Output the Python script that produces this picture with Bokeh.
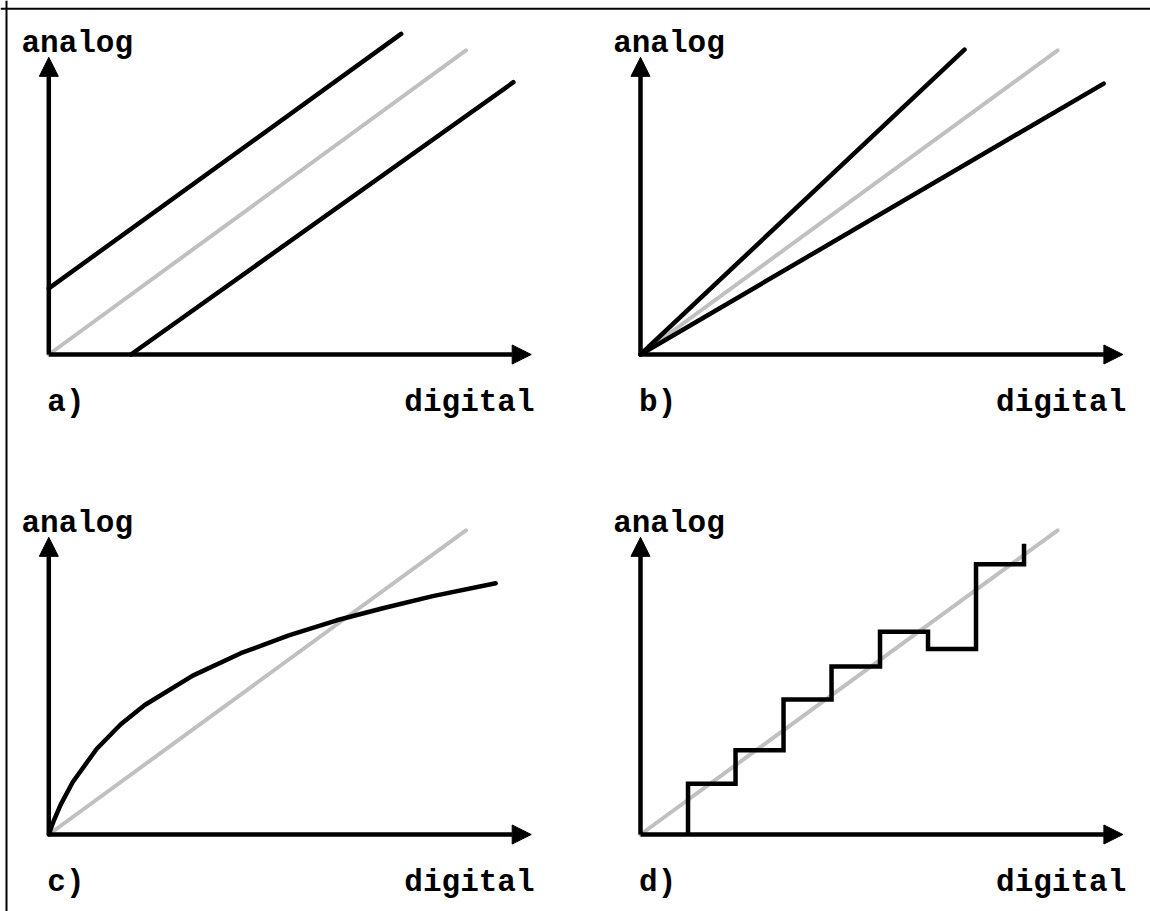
from bokeh.plotting import figure
from bokeh.models import Range1d, Arrow, NormalHead
from bokeh.embed import file_html
from bokeh.resources import INLINE
from bokeh.core.properties import value

# ---- data (x: digital codes, y: analog LSB) ----
ideal_x = [0, 8.69]
ideal_y = [0, 8.69]

# a) offset error
offset_pos_x = [0, 7.34]
offset_pos_y = [1.89, 9.16]
offset_neg_x = [1.71, 9.68]
offset_neg_y = [0, 7.78]

# b) gain error
gain_hi_x = [0, 6.75]
gain_hi_y = [0, 8.71]
gain_lo_x = [0, 9.65]
gain_lo_y = [0, 7.74]

# c) nonlinearity
curve_x = [0, 0.03, 0.1, 0.25, 0.5, 1, 1.5, 2, 3, 4, 5, 6, 7, 8, 9.31]
curve_y = [0, 0.12, 0.38, 0.86, 1.50, 2.45, 3.15, 3.70, 4.54, 5.18, 5.69,
           6.12, 6.48, 6.81, 7.18]

# d) staircase
step_x = [0.99, 1.98, 2.98, 3.98, 4.99, 5.99, 6.99, 7.99]
step_y = [1.45, 2.41, 3.86, 4.80, 5.79, 5.30, 7.72, 8.31]

panel_labels = ["a)", "b)", "c)", "d)"]
x_label = "digital"
y_label = "analog"

X_AXIS_END = 10.05
Y_AXIS_END = 8.49

W, H = 1150, 911
PX_X = 48.0   # pixels per digital unit
PX_Y = 35.0   # pixels per analog unit
# panel origins on the page (pixels from left / top)
ORIGINS = {"a": (48.3, 354), "b": (640.0, 354), "c": (48.3, 834), "d": (640.0, 834)}

FONT = value("Liberation Mono")
FS = "31px"
GRAY = "#c0c0c0"
LW = 4.5

p = figure(width=W, height=H, output_backend="svg", toolbar_location=None,
           x_range=Range1d(0, W), y_range=Range1d(H, 0), min_border=0)
p.axis.visible = False
p.grid.visible = False
p.outline_line_color = None
p.background_fill_color = "white"
p.border_fill_color = "white"

# frame border (top and left edges visible)
p.line([0, W], [8.3, 8.3], line_color="black", line_width=2)
p.line([6, 6], [0, H], line_color="black", line_width=2)

for key, (ox, oy) in ORIGINS.items():
    p.extra_x_ranges[key + "x"] = Range1d(-ox / PX_X, (W - ox) / PX_X)
    p.extra_y_ranges[key + "y"] = Range1d(-(H - oy) / PX_Y, oy / PX_Y)


def panel(key, label):
    kw = dict(x_range_name=key + "x", y_range_name=key + "y")
    p.add_layout(Arrow(end=NormalHead(size=19, fill_color="black", line_color="black"),
                       x_start=0, y_start=0, x_end=X_AXIS_END, y_end=0,
                       line_width=LW, line_color="black", **kw))
    p.add_layout(Arrow(end=NormalHead(size=19, fill_color="black", line_color="black"),
                       x_start=0, y_start=0, x_end=0, y_end=Y_AXIS_END,
                       line_width=LW, line_color="black", **kw))
    txt = dict(text_font=FONT, text_font_size=FS, text_font_style="bold",
               text_color="black", text_baseline="alphabetic", **kw)
    p.text(x=[-0.57], y=[8.88], text=[y_label], text_align="left", **txt)
    p.text(x=[10.12], y=[-1.37], text=[x_label], text_align="right", **txt)
    p.text(x=[-0.03], y=[-1.37], text=[label], text_align="left", **txt)
    p.line(ideal_x, ideal_y, line_color=GRAY, line_width=4, line_cap="round", **kw)
    return kw


kw = panel("a", panel_labels[0])
p.line(offset_pos_x, offset_pos_y, line_color="black", line_width=LW, line_cap="round", **kw)
p.line(offset_neg_x, offset_neg_y, line_color="black", line_width=LW, line_cap="round", **kw)

kw = panel("b", panel_labels[1])
p.line(gain_hi_x, gain_hi_y, line_color="black", line_width=LW, line_cap="round", **kw)
p.line(gain_lo_x, gain_lo_y, line_color="black", line_width=LW, line_cap="round", **kw)

kw = panel("c", panel_labels[2])
p.line(curve_x, curve_y, line_color="black", line_width=LW, line_cap="round",
       line_join="round", **kw)

kw = panel("d", panel_labels[3])
sx = [step_x[0]]
sy = [0]
for i in range(len(step_x)):
    sx.append(step_x[i])
    sy.append(step_y[i])
    if i + 1 < len(step_x):
        sx.append(step_x[i + 1])
        sy.append(step_y[i])
p.line(sx, sy, line_color="black", line_width=LW, line_join="miter", **kw)

open("out.html", "w").write(file_html(p, INLINE))
